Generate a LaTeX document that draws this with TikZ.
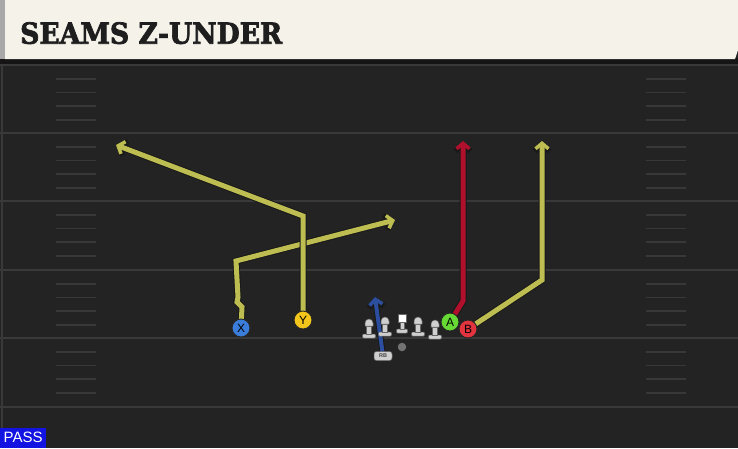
\documentclass[tikz,border=0pt]{standalone}
\usepackage{fontspec}
\setmainfont{Liberation Sans}
\newfontfamily\titlefont[BoldFeatures={FakeBold=2.5}]{DejaVu Serif}
\usetikzlibrary{arrows.meta,shapes.misc}
\definecolor{fieldbg}{HTML}{232323}
\definecolor{yardc}{HTML}{393939}
\definecolor{hashc}{HTML}{383838}
\definecolor{cream}{HTML}{F5F2EA}
\definecolor{stripe}{HTML}{A8A8A8}
\definecolor{shadowc}{HTML}{151515}
\definecolor{titlec}{HTML}{1E1E1E}
\definecolor{yelroute}{HTML}{BDBD52}
\definecolor{redroute}{HTML}{B0102C}
\definecolor{blueroute}{HTML}{2C4E9E}
\definecolor{xblue}{HTML}{3A7DDA}
\definecolor{yyellow}{HTML}{F4C51A}
\definecolor{agreen}{HTML}{66D934}
\definecolor{bred}{HTML}{E2343F}
\definecolor{passblue}{HTML}{1414E2}
\definecolor{linegray}{HTML}{CFCFCF}
\pgfdeclarelayer{fieldlayer}
\pgfdeclarelayer{routelayer}
\pgfsetlayers{fieldlayer,routelayer,main}
\tikzset{
  yard/.style={draw=yardc, line width=2pt},
  hashmark/.style={draw=hashc, line width=1.8pt},
  player/.style={circle, draw=black!85, line width=0.9pt, minimum size=18pt, inner sep=0pt, font=\fontsize{12}{12}\selectfont, text=black},
  routeout/.style={draw=black!90, line width=7pt, line join=miter, -{Straight Barb[length=6.5pt,width=15pt,line width=5.5pt]}},
  routein/.style={line width=5pt, line join=miter, -{Straight Barb[length=5.5pt,width=13pt,line width=3.5pt]}},
  manpart/.style={fill=linegray, draw=black!60, line width=0.5pt},
  pics/lineman/.style={code={
    \filldraw[manpart, rounded corners=1pt] (-6.5,-4) rectangle (6.5,0);
    \filldraw[manpart] (-2.4,-12) rectangle (2.4,-4);
    \filldraw[manpart] (-4,-12) -- (-4,-15) arc[start angle=180, end angle=360, radius=4] -- (4,-12) -- cycle;
  }},
  pics/centerman/.style={code={
    \filldraw[manpart, rounded corners=1pt] (-5.5,-4) rectangle (5.5,0);
    \filldraw[manpart] (-2.2,-11) rectangle (2.2,-4);
    \filldraw[fill=white, draw=black!60, line width=0.5pt] (-4.2,-19) rectangle (4.2,-11);
  }}
}
\begin{document}
\begin{tikzpicture}[x=1pt,y=-1pt]
\useasboundingbox (0,0) rectangle (738,448);
\begin{pgfonlayer}{fieldlayer}
\fill[fieldbg] (0,0) rectangle (738,448);
% yard lines
\foreach \yy in {65,133,201,270,338,407} \draw[yard] (0,\yy) -- (738,\yy);
% hash marks
\foreach \yy in {65,133,201,270,338} {
  \foreach \k in {1,...,4} {
    \draw[hashmark] (56,{\yy+13.7*\k}) -- (96,{\yy+13.7*\k});
    \draw[hashmark] (646,{\yy+13.7*\k}) -- (686,{\yy+13.7*\k});
  }
}
\draw[yard] (2,60) -- (2,448);
% header
\fill[shadowc] (0,58) rectangle (738,64);
\fill[cream] (5,0) -- (738,0) -- (738,50) -- (735,59) -- (5,59) -- cycle;
\fill[stripe] (0,0) rectangle (5,59);
\end{pgfonlayer}
\node[anchor=north west, inner sep=0pt, text=titlec] (title) at (20,22) {\resizebox{262pt}{21.5pt}{\titlefont\bfseries SEAMS Z-UNDER}};
% players
\node[player, fill=xblue] (X) at (241,328) {X};
\node[player, fill=yyellow] (Y) at (303,320) {Y};
\node[player, fill=agreen] (A) at (450,322) {A};
\node[player, fill=bred] (B) at (468,329) {B};
\node[rectangle, rounded corners=2.5pt, fill=linegray, draw=black!60, line width=0.5pt, minimum width=18pt, minimum height=9pt, inner sep=0pt, font=\fontsize{5.5}{5.5}\selectfont\bfseries, text=black!75] (RB) at (383,356) {RB};
\node[circle, fill=black!55, minimum size=8.5pt, inner sep=0pt] (QB) at (402,347) {};
% linemen
\pic at (369,338) {lineman};
\pic at (385,336) {lineman};
\pic at (402,333) {centerman};
\pic at (418,336) {lineman};
\pic at (435,339) {lineman};
% route points
\coordinate (x1) at (242,307);
\coordinate (x2) at (237,302);
\coordinate (x3) at (238,297);
\coordinate (x4) at (236,261);
\coordinate (x5) at (395,220);
\coordinate (y1) at (303,216);
\coordinate (y2) at (116,145);
\coordinate (a1) at (463,301);
\coordinate (a2) at (463,141);
\coordinate (b1) at (542,280);
\coordinate (b2) at (542,141);
\coordinate (r1) at (375,297);
% routes (outline then colour), behind the players
\begin{pgfonlayer}{routelayer}
\draw[routeout] (X.center) -- (x1) -- (x2) -- (x3) -- (x4) -- (x5);
\draw[routein, yelroute] (X.center) -- (x1) -- (x2) -- (x3) -- (x4) -- (x5);
\draw[routeout] (Y.center) -- (y1) -- (y2);
\draw[routein, yelroute] (Y.center) -- (y1) -- (y2);
\draw[routeout] (A.center) -- (a1) -- (a2);
\draw[routein, redroute] (A.center) -- (a1) -- (a2);
\draw[routeout] (B.center) -- (b1) -- (b2);
\draw[routein, yelroute] (B.center) -- (b1) -- (b2);
\draw[routeout, line width=6pt] (RB.center) -- (r1);
\draw[routein, blueroute, line width=4pt] (RB.center) -- (r1);
\end{pgfonlayer}
% pass label
\node[fill=passblue, text=white, anchor=south west, minimum width=46pt, minimum height=20pt, inner sep=0pt, font=\fontsize{15}{15}\selectfont] (pass) at (0,448) {PASS};
\end{tikzpicture}
\end{document}
